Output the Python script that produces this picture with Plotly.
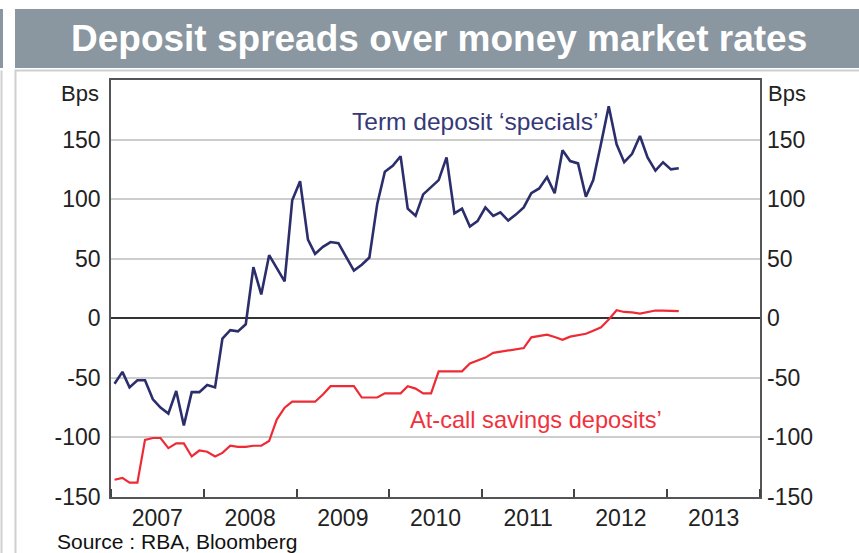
import pandas as pd
import plotly.graph_objects as go

# Monthly spreads over money market rates, basis points (Jan 2007 - Feb 2013)
term_deposit_specials = [
    -55, -45, -58, -52, -52, -68, -75, -80, -61, -90, -62, -62,
    -56, -58, -17, -10, -11, -5, 43, 20, 53, 42, 31, 99,
    115, 66, 54, 60, 64, 63, 52, 40, 45, 51, 96, 123,
    128, 136, 92, 86, 104, 110, 116, 135, 88, 92, 77, 81.5,
    93, 86, 89, 82, 87, 93, 105, 109, 118.5, 105, 141, 132,
    130, 102, 116, 147, 178, 146, 131, 138, 153, 135, 124, 131,
    125, 126,
]
at_call_savings = [
    -135.5, -134, -138, -138, -102, -100.5, -100.5, -109, -105, -105, -116, -111,
    -112, -116, -113, -107, -108, -108, -107, -107, -103, -85, -75, -70,
    -70, -70, -70, -64, -57, -57, -57, -57, -66.5, -66.5, -66.5, -63,
    -63, -63, -57, -59, -63, -63, -44.5, -44.5, -44.5, -44.5, -38, -35.5,
    -33, -29, -28, -27, -26, -25, -16, -15, -13.7, -15.7, -18, -15.4,
    -14.3, -13, -10.4, -7.6, -1, 6.7, 5.3, 5, 4, 5.3, 6.5, 6.5,
    6.5, 6,
]
months = pd.date_range("2007-01-01", periods=len(term_deposit_specials), freq="MS") + pd.Timedelta(days=14)

y_ticks = [-150, -100, -50, 0, 50, 100, 150]
y_tick_labels = ["-150", "-100", "-50", "0", "50", "100", "150"]
y_range = [-150, 200]
x_range = ["2007-01-01", "2014-01-01"]

title_text = "Deposit spreads over money market rates"
source_text = "Source : RBA, Bloomberg"
unit_text = "Bps"
term_label = "Term deposit \u2018specials\u2019"
call_label = "At-call savings deposits\u2019"

NAVY = "#2b2e6b"
RED = "#ee2a35"
BAR_GREY = "#8a96a0"
FONT = "Liberation Sans, Arial, sans-serif"
TICK_FONT = dict(family=FONT, size=23, color="#222")

W, H = 859, 553
ML, MR, MT, MB = 111, 99, 80, 56
PW, PH = W - ML - MR, H - MT - MB


def px(x):
    return (x - ML) / PW


def py(y):
    return (H - MB - y) / PH


fig = go.Figure()
fig.add_trace(go.Scatter(x=months, y=at_call_savings, mode="lines",
                         line=dict(color=RED, width=2.2), yaxis="y2",
                         hoverinfo="skip"))
fig.add_trace(go.Scatter(x=months, y=term_deposit_specials, mode="lines",
                         line=dict(color=NAVY, width=2.6), hoverinfo="skip"))

shapes = [
    # heading bar
    dict(type="rect", xref="paper", yref="paper", x0=px(15), x1=px(870),
         y0=py(68), y1=py(9), fillcolor=BAR_GREY, line=dict(width=0), layer="below"),
    dict(type="rect", xref="paper", yref="paper", x0=px(-5), x1=px(3),
         y0=py(68), y1=py(9), fillcolor=BAR_GREY, line=dict(width=0), layer="below"),
    # chart panel frame
    dict(type="rect", xref="paper", yref="paper", x0=px(15.5), x1=px(875),
         y0=py(570), y1=py(70.5), fillcolor="rgba(0,0,0,0)",
         line=dict(color="#cfcfcf", width=2), layer="below"),
    dict(type="line", xref="paper", yref="paper", x0=px(1.5), x1=px(1.5),
         y0=py(560), y1=py(70.5), line=dict(color="#cfcfcf", width=2), layer="below"),
]

annotations = [
    dict(text=title_text, x=px(439), y=py(39), xref="paper", yref="paper",
         showarrow=False, xanchor="center", yanchor="middle",
         font=dict(family=FONT, size=37, color="white", weight="bold")),
    dict(text=unit_text, x=px(101), y=py(93), xref="paper", yref="paper",
         showarrow=False, xanchor="right", yanchor="middle",
         font=dict(family=FONT, size=22, color="#222")),
    dict(text=unit_text, x=px(766), y=py(93), xref="paper", yref="paper",
         showarrow=False, xanchor="left", yanchor="middle",
         font=dict(family=FONT, size=22, color="#222")),
    dict(text=term_label, x=px(350), y=py(121), xref="paper", yref="paper",
         showarrow=False, xanchor="left", yanchor="middle",
         font=dict(family=FONT, size=24.5, color="#353977")),
    dict(text=call_label, x=px(408), y=py(420), xref="paper", yref="paper",
         showarrow=False, xanchor="left", yanchor="middle",
         font=dict(family=FONT, size=23.6, color="#f0323d")),
    dict(text=source_text, x=px(55), y=py(541), xref="paper", yref="paper",
         showarrow=False, xanchor="left", yanchor="middle",
         font=dict(family=FONT, size=21, color="#111")),
]

fig.update_layout(
    width=W, height=H,
    margin=dict(l=ML, r=MR, t=MT, b=MB, pad=0),
    paper_bgcolor="white", plot_bgcolor="white",
    showlegend=False,
    font=dict(family=FONT, size=21, color="#222"),
    shapes=shapes, annotations=annotations,
    xaxis=dict(type="date", range=x_range, tick0="2007-01-01", dtick="M12",
               ticklabelmode="period", tickformat="%Y",
               ticks="inside", ticklen=8, tickwidth=1.5, tickcolor="#444",
               showline=True, linecolor="#555", linewidth=1.6, mirror=True,
               showgrid=False, zeroline=False, ticklabelstandoff=0,
               tickfont=TICK_FONT),
    yaxis=dict(range=y_range, tickvals=y_ticks, ticktext=y_tick_labels, ticks="",
               showgrid=True, gridcolor="#cdcdcd", gridwidth=1.5,
               zeroline=True, zerolinecolor="#333", zerolinewidth=1.6,
               showline=True, linecolor="#555", linewidth=1.6, mirror=True,
               ticklabelstandoff=4, tickfont=TICK_FONT),
    yaxis2=dict(range=y_range, tickvals=y_ticks, ticktext=y_tick_labels, ticks="",
                overlaying="y", side="right", showgrid=False, zeroline=False,
                showline=False, ticklabelstandoff=6, tickfont=TICK_FONT),
)

fig.write_html("out.html")
